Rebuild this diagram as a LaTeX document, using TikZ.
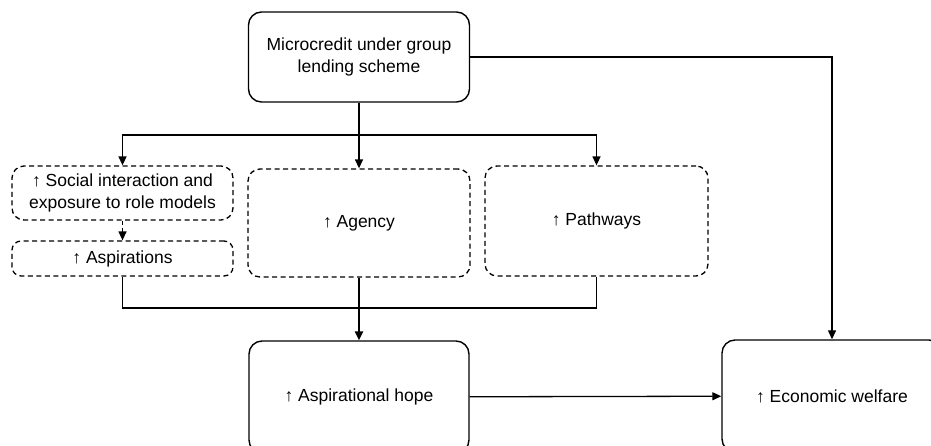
\documentclass[tikz,border=0pt]{standalone}
\usepackage{fontspec}
\setmainfont{Liberation Sans}
\usetikzlibrary{arrows.meta}

\tikzset{
  >={Triangle[length=9pt,width=8pt]},
  solidbox/.style={draw, line width=1.4pt, rounded corners=13pt, align=center,
    font=\fontsize{17.5}{21.5}\selectfont, inner sep=0pt},
  dashbox/.style={solidbox, dashed, line width=1.3pt, dash pattern=on 5pt off 3.5pt, rounded corners=12pt},
  link/.style={line width=1.3pt}
}

\begin{document}
\begin{tikzpicture}[x=1pt, y=-1pt]
  \useasboundingbox (0,0) rectangle (931,445);

  % Cajas
  \node[solidbox, minimum width=221pt, minimum height=90pt] (micro) at (359,57)
    {Microcredit under group\\lending scheme};
  \node[dashbox, minimum width=221pt, minimum height=54pt] (social) at (122.5,193)
    {↑ Social interaction and\\exposure to role models};
  \node[dashbox, minimum width=221pt, minimum height=35pt, rounded corners=9pt] (aspir) at (122.5,258.5)
    {↑ Aspirations};
  \node[dashbox, minimum width=222pt, minimum height=108pt] (agency) at (359,223)
    {↑ Agency};
  \node[dashbox, minimum width=223pt, minimum height=110pt] (pathways) at (596.5,221)
    {↑ Pathways};
  \node[solidbox, minimum width=220pt, minimum height=112pt] (hope) at (359,397)
    {↑ Aspirational hope};
  \node[solidbox, minimum width=220pt, minimum height=112pt] (welfare) at (832,396)
    {↑ Economic welfare};

  % Flechas
  \coordinate (split) at (359,135);
  \coordinate (merge) at (359,308);
  \draw[link] (micro) -- (split);
  \draw[link, ->] (split) -| (social.north);
  \draw[link, ->] (split) -- (agency);
  \draw[link, ->] (split) -| (pathways.north);
  \draw[link, dashed, dash pattern=on 4pt off 3pt, ->] (social) -- (aspir);
  \draw[link] (aspir) |- (merge);
  \draw[link] (pathways) |- (merge);
  \draw[line width=2.2pt, ->] (agency) -- (hope);
  \draw[link, ->] (hope) -- (welfare);
  \draw[link, ->] (micro) -| (welfare);
\end{tikzpicture}
\end{document}
